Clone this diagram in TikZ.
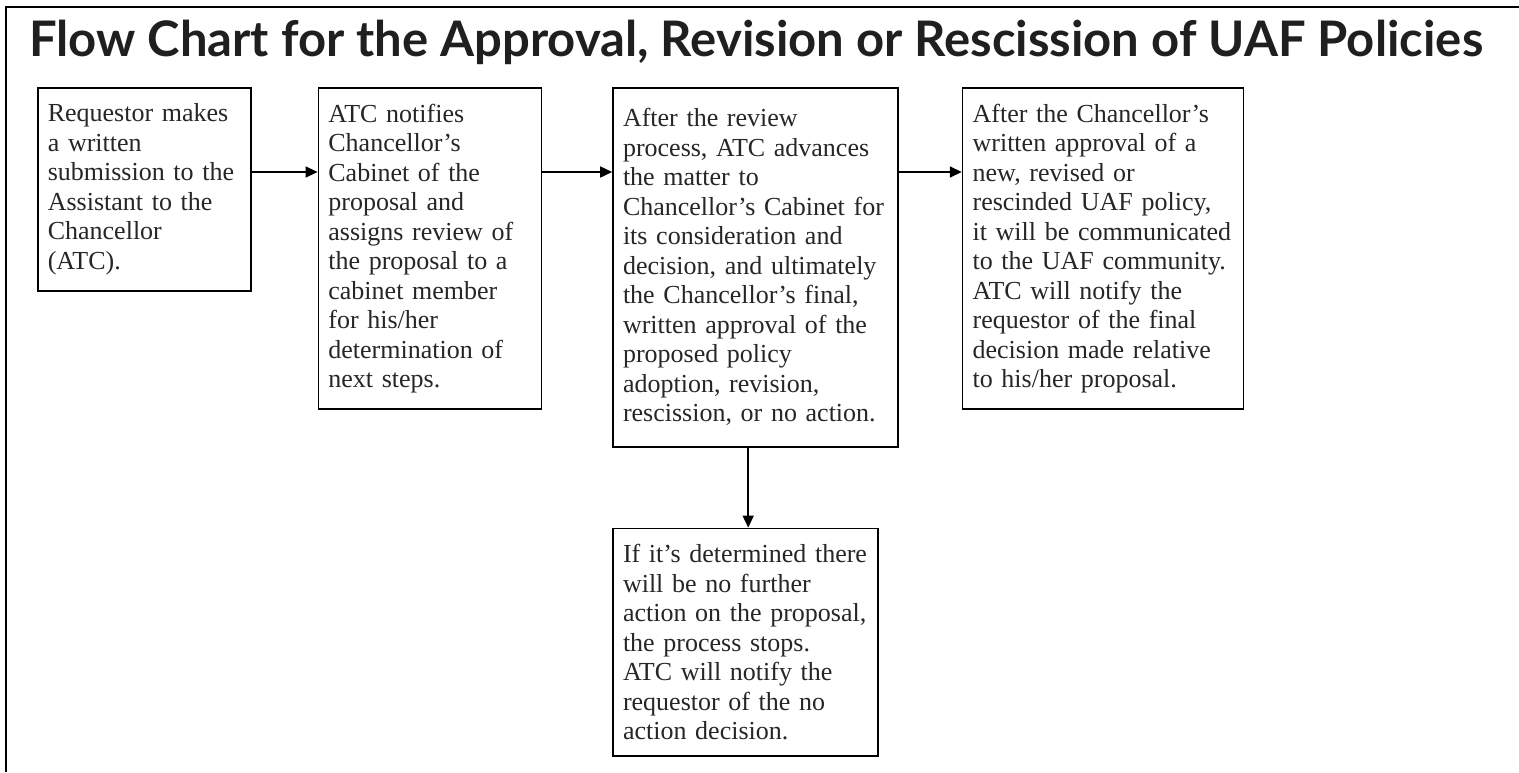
\documentclass[tikz,border=0pt]{standalone}
\usepackage{fontspec}
\setmainfont{Liberation Serif}
\newfontfamily\titlefont{Lato}
\usetikzlibrary{positioning,arrows.meta}

\begin{document}
\begin{tikzpicture}[x=1pt, y=1pt, box/.style = {draw, line width=1.6pt, align=left, inner xsep=10pt, inner ysep=16pt, anchor=north west, text=black!85, font=\fontsize{26}{29.5}\selectfont}, flow/.style = {line width=1.6pt, -{Triangle[length=12pt, width=11pt]}}]
			\useasboundingbox (0,0) rectangle (1519,-772);
			\draw[line width=2pt] (6,-772) -- (6,-7) -- (1519,-7);
			\node[anchor=base west, inner sep=0pt, text=black!88, font=\titlefont\bfseries\fontsize{49}{54}\selectfont] (title) at (29,-56) {Flow Chart for the Approval, Revision or Rescission of UAF Policies};
			\node[box, text width=193pt] (1) at (37,-87) {Requestor makes\\a written\\submission to the\\Assistant to the\\Chancellor\\(ATC).};
			\node[box, text width=203pt] (2) [right=66pt of 1.north east, anchor=north west] {ATC notifies\\Chancellor’s\\Cabinet of the\\proposal and\\assigns review of\\the proposal to a\\cabinet member\\for his/her\\determination of\\next steps.};
			\node[box, text width=265pt, minimum height=359pt] (3) [right=70pt of 2.north east, anchor=north west] {After the review\\process, ATC advances\\the matter to\\Chancellor’s Cabinet for\\its consideration and\\decision, and ultimately\\the Chancellor’s final,\\written approval of the\\proposed policy\\adoption, revision,\\rescission, or no action.};
			\node[box, text width=261pt] (4) [right=63pt of 3.north east, anchor=north west] {After the Chancellor’s\\written approval of a\\new, revised or\\rescinded UAF policy,\\it will be communicated\\to the UAF community.\\ATC will notify the\\requestor of the final\\decision made relative\\to his/her proposal.};
			\node[box, text width=245pt] (5) [below=80pt of 3.south west, anchor=north west] {If it’s determined there\\will be no further\\action on the proposal,\\the process stops.\\ATC will notify the\\requestor of the no\\action decision.};
			\draw[flow] ([yshift=-85pt]1.north east) -- ([yshift=-85pt]2.north west);
			\draw[flow] ([yshift=-85pt]2.north east) -- ([yshift=-85pt]3.north west);
			\draw[flow] ([yshift=-85pt]3.north east) -- ([yshift=-85pt]4.north west);
			\draw[flow] ([xshift=136pt]3.south west) -- ([xshift=136pt]5.north west);
		\end{tikzpicture}
\end{document}
